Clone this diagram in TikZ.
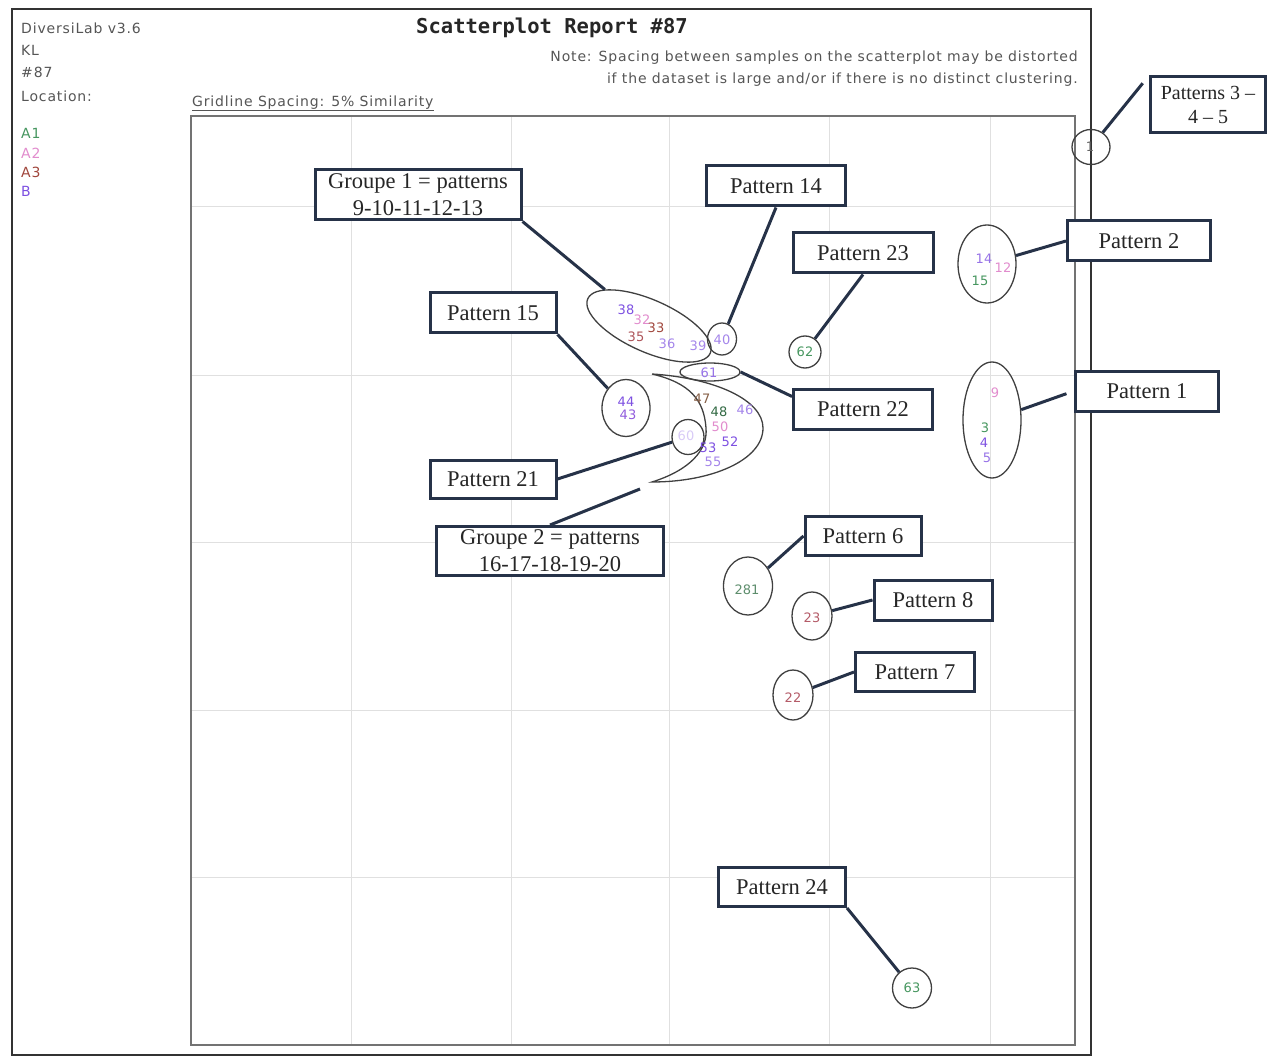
\documentclass[tikz,border=0pt]{standalone}
\usepackage{fontspec}
\setmainfont{Liberation Serif}
\newfontfamily\hdrfont[LetterSpace=6]{DejaVu Sans}
\newfontfamily\smpfont{DejaVu Sans}
\newfontfamily\ttlfont{DejaVu Sans Mono}
\usepackage{xcolor}
\usetikzlibrary{shapes.geometric}

\definecolor{boxnavy}{RGB}{38,50,72}
\definecolor{ptgreen}{RGB}{70,150,95}
\definecolor{ptpink}{RGB}{225,140,205}
\definecolor{ptbrown}{RGB}{160,70,60}
\definecolor{ptblue}{RGB}{125,80,225}
\definecolor{hdrgray}{RGB}{85,85,85}

\begin{document}
\begin{tikzpicture}[x=1pt, y=-1pt, inner sep=1pt,
    callout/.style={draw=boxnavy, line width=3pt, fill=white, inner sep=0pt,
      minimum height=40pt, align=center, text=black!85, font=\fontsize{22.5}{27}\selectfont},
    ring/.style={draw=black!75, line width=1.3pt, ellipse, inner sep=0pt},
    callline/.style={draw=boxnavy, line width=3pt},
    smp/.style={font=\smpfont\fontsize{13}{13}\selectfont, inner sep=0pt},
    hdr/.style={font=\hdrfont\fontsize{14}{22}\selectfont, text=hdrgray, anchor=west}]
    \useasboundingbox (0,0) rectangle (1280,1059);
    % frames and grid
    \foreach \gx in {351,511,669,829,990}
      \draw[black!12, line width=1pt] (\gx,116) -- (\gx,1045);
    \foreach \gy in {207,375,542,710,877}
      \draw[black!12, line width=1pt] (191,\gy) -- (1075,\gy);
    \draw[black!55, line width=1.2pt] (191,116) rectangle (1075,1045);
    \draw[black!80, line width=2.5pt] (12,9) rectangle (1091,1055);

    % header
    \node[hdr] (ver) at (20,28) {DiversiLab v3.6};
    \node[hdr] (kl) at (20,50) {KL};
    \node[hdr] (rep) at (20,72) {\#87};
    \node[hdr] (loc) at (20,96) {Location:};
    \node[hdr, text=ptgreen] (la1) at (20,133) {A1};
    \node[hdr, text=ptpink] (la2) at (20,153) {A2};
    \node[hdr, text=ptbrown] (la3) at (20,172) {A3};
    \node[hdr, text=ptblue] (lb) at (20,191) {B};
    \node[font=\ttlfont\bfseries\fontsize{20.5}{20}\selectfont, text=black!85] (title) at (552,28) {Scatterplot Report \#87};
    \node[hdr, anchor=east, align=right] (note) at (1079,69)
      {Note: Spacing between samples on the scatterplot may be distorted\\if the dataset is large and/or if there is no distinct clustering.};
    \node[hdr, anchor=south west, inner sep=0pt] (gls) at (192,110) {Gridline Spacing: 5\% Similarity};
    \draw[hdrgray] (gls.south west) -- (gls.south east);

    % rings round the clusters
    \node[ring, minimum width=134pt, minimum height=52pt, rotate=-24] (g1ell) at (649,326) {};
    \node[ring, minimum width=29pt, minimum height=32pt] (c14) at (722,339) {};
    \node[ring, minimum width=60pt, minimum height=18pt] (e22) at (710,372) {};
    \node[ring, minimum width=48pt, minimum height=57pt] (e15) at (626,408) {};
    \node[ring, minimum width=32pt, minimum height=35pt] (c21) at (688,437) {};
    \node[ring, minimum width=32pt, minimum height=32pt] (c23) at (805,352) {};
    \node[ring, minimum width=58pt, minimum height=78pt] (e2) at (987,264) {};
    \node[ring, minimum width=58pt, minimum height=116pt] (e1) at (992,420) {};
    \node[ring, minimum width=38pt, minimum height=35pt] (c345) at (1091,147) {};
    \node[ring, minimum width=49pt, minimum height=58pt] (c6) at (748,586) {};
    \node[ring, minimum width=40pt, minimum height=48pt] (c8) at (812,616) {};
    \node[ring, minimum width=40pt, minimum height=50pt] (c7) at (793,695) {};
    \node[ring, minimum width=39pt, minimum height=40pt] (c24) at (912,988) {};
    \draw[black!75, line width=1.3pt] (652,374) .. controls (715,378) and (763,400) .. (763,428)
      .. controls (763,460) and (712,482) .. (652,482)
      .. controls (690,470) and (708,450) .. (706,428)
      .. controls (704,400) and (690,383) .. (652,374);
    \coordinate (g2tip) at (640,489);

    % samples
    \node[smp, text=ptblue] (s38) at (626,310) {38};
    \node[smp, text=ptpink] (s32) at (642,320) {32};
    \node[smp, text=ptbrown] (s33) at (656,328) {33};
    \node[smp, text=ptbrown!80!ptpink] (s35) at (636,337) {35};
    \node[smp, text=ptblue!70] (s36) at (667,344) {36};
    \node[smp, text=ptblue!70] (s39) at (698,346) {39};
    \node[smp, text=ptblue!70] (s40) at (722,340) {40};
    \node[smp, text=ptblue!80] (s61) at (709,373) {61};
    \node[smp, text=ptgreen] (s62) at (805,352) {62};
    \node[smp, text=ptblue] (s44) at (626,402) {44};
    \node[smp, text=ptblue!80!ptpink] (s43) at (628,415) {43};
    \node[smp, text=ptbrown!70!ptgreen] (s47) at (702,399) {47};
    \node[smp, text=ptgreen!70!black] (s48) at (719,412) {48};
    \node[smp, text=ptblue!70] (s46) at (745,410) {46};
    \node[smp, text=ptpink] (s50) at (720,427) {50};
    \node[smp, text=ptblue] (s52) at (730,442) {52};
    \node[smp, text=ptblue] (s53) at (708,448) {53};
    \node[smp, text=ptblue!70] (s55) at (713,462) {55};
    \node[smp, text=ptblue!30] (s60) at (686,436) {60};
    \node[smp, text=ptblue!80] (s14) at (984,259) {14};
    \node[smp, text=ptpink] (s12) at (1003,268) {12};
    \node[smp, text=ptgreen] (s15) at (980,281) {15};
    \node[smp, text=ptpink] (s9) at (995,393) {9};
    \node[smp, text=ptgreen] (s3) at (985,428) {3};
    \node[smp, text=ptblue] (s4) at (984,443) {4};
    \node[smp, text=ptblue!80] (s5) at (987,458) {5};
    \node[smp, text=black!60] (s1) at (1090,147) {1};
    \node[smp, text=ptgreen!60!gray] (s28) at (747,590) {281};
    \node[smp, text=ptbrown!70!ptpink] (s23) at (812,618) {23};
    \node[smp, text=ptbrown!70!ptpink] (s22) at (793,698) {22};
    \node[smp, text=ptgreen] (s63) at (912,988) {63};

    % callouts
    \node[callout, minimum width=206pt, minimum height=50pt] (g1box) at (418,195) {Groupe 1 = patterns\\9-10-11-12-13};
    \node[callout, minimum width=139pt] (p14) at (776,186) {Pattern 14};
    \node[callout, minimum width=140pt] (p23) at (863,253) {Pattern 23};
    \node[callout, minimum width=143pt] (p2) at (1139,241) {Pattern 2};
    \node[callout, minimum width=115pt, minimum height=56pt, font=\fontsize{20}{24}\selectfont] (p345) at (1208,105) {Patterns 3 --\\4 -- 5};
    \node[callout, minimum width=126pt] (p15) at (493,313) {Pattern 15};
    \node[callout, minimum width=139pt] (p22) at (863,409) {Pattern 22};
    \node[callout, minimum width=143pt] (p1) at (1147,391) {Pattern 1};
    \node[callout, minimum width=126pt, minimum height=38pt] (p21) at (493,479) {Pattern 21};
    \node[callout, minimum width=227pt, minimum height=49pt] (g2box) at (550,551) {Groupe 2 = patterns\\16-17-18-19-20};
    \node[callout, minimum width=116pt, minimum height=39pt] (p6) at (863,536) {Pattern 6};
    \node[callout, minimum width=118pt] (p8) at (933,600) {Pattern 8};
    \node[callout, minimum width=119pt, minimum height=39pt] (p7) at (915,672) {Pattern 7};
    \node[callout, minimum width=127pt, minimum height=39pt] (p24) at (782,887) {Pattern 24};

    % connectors
    \draw[callline] (g1box.south east) -- (g1ell);
    \draw[callline] (p14.south) -- (c14);
    \draw[callline] (p23.south) -- (c23);
    \draw[callline] (p2.west) -- (e2);
    \draw[callline, shorten <=10pt] (p345.north west) -- (c345);
    \draw[callline] (p15.south east) -- (e15);
    \draw[callline] (e22.east) -- (p22.170);
    \draw[callline, shorten <=8pt] (p1.west) -- (e1);
    \draw[callline] (p21.east) -- (c21);
    \draw[callline] (g2box.north) -- (g2tip);
    \draw[callline] (p6.west) -- (c6);
    \draw[callline] (p8.west) -- (c8);
    \draw[callline] (p7.west) -- (c7);
    \draw[callline] (p24.south east) -- (c24);
  \end{tikzpicture}
\end{document}
